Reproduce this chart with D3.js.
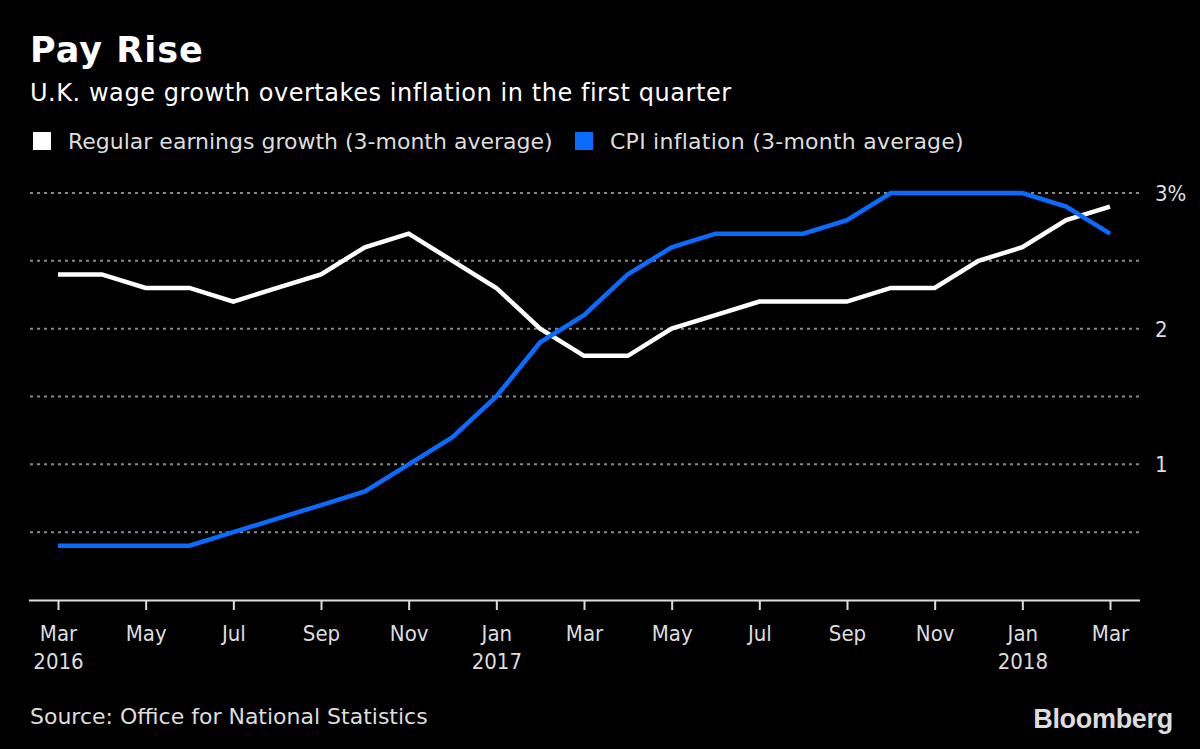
<!DOCTYPE html>
<html><head><meta charset="utf-8">
<script src="https://cdn.jsdelivr.net/npm/d3@7"></script>
<style>
html,body{margin:0;padding:0;background:#000;}
svg{display:block;}
</style></head><body>
<svg id="chart" width="1200" height="749"></svg>
<script>
const months = ["Mar 2016","Apr 2016","May 2016","Jun 2016","Jul 2016","Aug 2016","Sep 2016","Oct 2016","Nov 2016","Dec 2016",
"Jan 2017","Feb 2017","Mar 2017","Apr 2017","May 2017","Jun 2017","Jul 2017","Aug 2017","Sep 2017","Oct 2017","Nov 2017","Dec 2017",
"Jan 2018","Feb 2018","Mar 2018"];
const earnings = [2.4,2.4,2.3,2.3,2.2,2.3,2.4,2.6,2.7,2.5,2.3,2.0,1.8,1.8,2.0,2.1,2.2,2.2,2.2,2.3,2.3,2.5,2.6,2.8,2.9];
const cpi = [0.4,0.4,0.4,0.4,0.5,0.6,0.7,0.8,1.0,1.2,1.5,1.9,2.1,2.4,2.6,2.7,2.7,2.7,2.8,3.0,3.0,3.0,3.0,2.9,2.7];
const tickIdx = [0,2,4,6,8,10,12,14,16,18,20,22,24];
const tickMonth = ["Mar","May","Jul","Sep","Nov","Jan","Mar","May","Jul","Sep","Nov","Jan","Mar"];
const tickYear = ["2016","","","","","2017","","","","","","2018",""];
const yTicks = [1,2,3];
const yTickLabels = ["1","2","3%"];
const gridVals = [0.5,1,1.5,2,2.5,3];
const seriesNames = ["Regular earnings growth (3-month average)","CPI inflation (3-month average)"];
const seriesColors = ["#ffffff","#0a6cff"];

const svg = d3.select("#chart");
const x = d3.scaleLinear().domain([0, months.length-1]).range([58,1110]);
const y = d3.scaleLinear().domain([0,3]).range([600,193]);
const norm = '"DejaVu Sans","Noto Sans",sans-serif';
const cond = '"DejaVu Sans Condensed","DejaVu Sans",sans-serif';

svg.append("rect").attr("width",1200).attr("height",749).attr("fill","#000");

// title
svg.append("text").attr("x",30).attr("y",62).attr("fill","#fff").style("font-family",norm)
  .attr("font-size",35).attr("font-weight","bold").attr("letter-spacing",1).text("Pay Rise");
svg.append("text").attr("x",30).attr("y",101).attr("fill","#fff").style("font-family",norm)
  .attr("font-size",24).attr("letter-spacing",0.55).text("U.K. wage growth overtakes inflation in the first quarter");

// legend
const leg = svg.append("g");
const legX = [33, 575];
seriesNames.forEach((n,i)=>{
  leg.append("rect").attr("x",legX[i]).attr("y",132).attr("width",18).attr("height",18).attr("fill",seriesColors[i]);
  leg.append("text").attr("x",legX[i]+35).attr("y",149).attr("fill","#ddd").attr("font-size",22).style("font-family",norm)
    .attr("letter-spacing",i===1?0.25:0).text(n);
});

// grid
svg.append("g").selectAll("line").data(gridVals).join("line")
  .attr("x1",30).attr("x2",1140).attr("y1",d=>y(d)).attr("y2",d=>y(d))
  .attr("stroke","#8a8a8a").attr("stroke-width",2).attr("stroke-dasharray","3,4");

// y labels
svg.append("g").selectAll("text").data(yTicks).join("text")
  .attr("x",1155).attr("y",d=>y(d)+8).attr("fill","#ddd").attr("font-size",22).style("font-family",cond)
  .text((d,i)=>yTickLabels[i]);

// x axis
const xAxis = d3.axisBottom(x).tickValues(tickIdx).tickSize(10).tickFormat(()=>"");
const xg = svg.append("g").attr("transform","translate(0,600)").call(xAxis);
xg.select(".domain").attr("d","M29,0.5H1140").attr("stroke","#ddd").attr("stroke-width",2);
xg.selectAll(".tick line").attr("stroke","#ddd").attr("stroke-width",2);
xg.selectAll(".tick").each(function(d,i){
  const t = d3.select(this).append("text").attr("fill","#ddd").attr("font-size",22).attr("text-anchor","middle").style("font-family",cond);
  t.append("tspan").attr("x",0).attr("y",41).text(tickMonth[i]);
  if (tickYear[i]) t.append("tspan").attr("x",0).attr("y",69).text(tickYear[i]);
});

// lines
const line = d3.line().x((d,i)=>x(i)).y(d=>y(d));
[earnings,cpi].forEach((s,i)=>{
  svg.append("path").datum(s).attr("d",line).attr("fill","none")
    .attr("stroke",seriesColors[i]).attr("stroke-width",4.5).attr("stroke-linejoin","miter");
});

// source
svg.append("text").attr("x",30).attr("y",724).attr("fill","#ddd").attr("font-size",22).style("font-family",norm)
  .text("Source: Office for National Statistics");
svg.append("text").attr("x",1173).attr("y",728).attr("text-anchor","end").attr("fill","#ddd")
  .style("font-family","'Liberation Sans',Arial,sans-serif").attr("font-weight","bold").attr("font-size",27)
  .attr("letter-spacing",-0.3).text("Bloomberg");
</script>
</body></html>
